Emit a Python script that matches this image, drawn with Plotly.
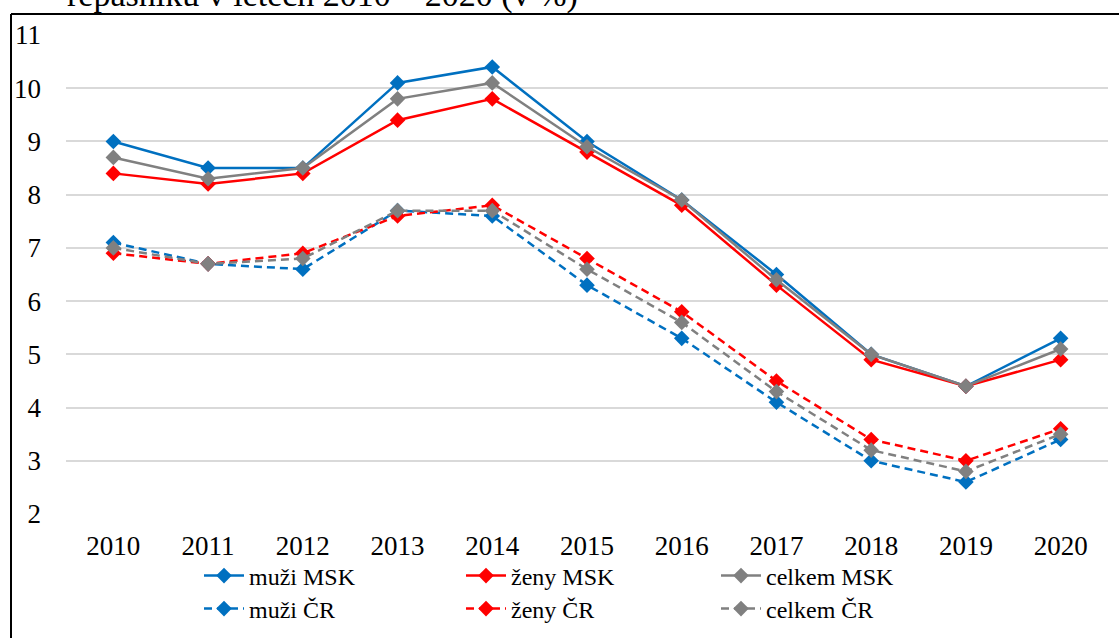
import plotly.graph_objects as go

years = ["2010", "2011", "2012", "2013", "2014", "2015", "2016", "2017", "2018", "2019", "2020"]
muzi_msk = [9.0, 8.5, 8.5, 10.1, 10.4, 9.0, 7.9, 6.5, 5.0, 4.4, 5.3]
zeny_msk = [8.4, 8.2, 8.4, 9.4, 9.8, 8.8, 7.8, 6.3, 4.9, 4.4, 4.9]
celkem_msk = [8.7, 8.3, 8.5, 9.8, 10.1, 8.9, 7.9, 6.4, 5.0, 4.4, 5.1]
muzi_cr = [7.1, 6.7, 6.6, 7.7, 7.6, 6.3, 5.3, 4.1, 3.0, 2.6, 3.4]
zeny_cr = [6.9, 6.7, 6.9, 7.6, 7.8, 6.8, 5.8, 4.5, 3.4, 3.0, 3.6]
celkem_cr = [7.0, 6.7, 6.8, 7.7, 7.7, 6.6, 5.6, 4.3, 3.2, 2.8, 3.5]
y_ticks = [2, 3, 4, 5, 6, 7, 8, 9, 10, 11]
title_text = "repasníků v letech 2010 – 2020 (v %)"

BLUE = "#0070C0"
RED = "#FF0000"
GRAY = "#808080"
FONT = "Times New Roman, Liberation Serif, serif"

# body margin removed by post_script, so page pixels == figure pixels
W, H = 1119, 638
L, R, T, B = 66, W - 1108, 35, H - 514
PW, PH = W - L - R, H - T - B

def px_x(page_x):
    return (page_x - L) / PW

def px_y(page_y):
    return (H - B - page_y) / PH

# legend slot positions in page pixels (line start / row centre), with calibration
leg_cols = [205 - 6, 467 - 6, 722 - 6]
leg_rows = [577 - 1, 610 - 1]

series = [
    ("muži MSK", muzi_msk, BLUE, "solid"),
    ("ženy MSK", zeny_msk, RED, "solid"),
    ("celkem MSK", celkem_msk, GRAY, "solid"),
    ("muži ČR", muzi_cr, BLUE, "8px,5px"),
    ("ženy ČR", zeny_cr, RED, "8px,5px"),
    ("celkem ČR", celkem_cr, GRAY, "8px,5px"),
]

fig = go.Figure()
legend_layouts = {}
for i, (name, vals, col, dash) in enumerate(series):
    leg_id = "legend" if i == 0 else f"legend{i + 1}"
    fig.add_trace(go.Scatter(
        x=years, y=vals, name=name, mode="lines+markers",
        line=dict(color=col, width=2.5, dash=dash),
        marker=dict(symbol="diamond", size=12, color=col),
        legend=leg_id,
    ))
    legend_layouts[leg_id] = dict(
        x=px_x(leg_cols[i % 3]), y=px_y(leg_rows[i // 3]),
        xanchor="left", yanchor="middle", orientation="h",
        font=dict(family=FONT, size=24, color="black"),
        bgcolor="rgba(0,0,0,0)", borderwidth=0, itemwidth=40,
    )

fig.update_layout(
    width=W, height=H,
    margin=dict(l=L, r=R, t=T, b=B, pad=0, autoexpand=False),
    paper_bgcolor="white", plot_bgcolor="white",
    font=dict(family=FONT, size=27, color="black"),
    showlegend=True,
    xaxis=dict(
        type="category", range=[-0.5, 10.5], showgrid=False, showline=False,
        ticks="", zeroline=False, ticklabelstandoff=13,
        tickfont=dict(family=FONT, size=27, color="black"),
    ),
    yaxis=dict(
        range=[2, 11], tickvals=y_ticks, showgrid=True, gridcolor="#D9D9D9",
        gridwidth=1.5, zeroline=False, showline=False, ticks="",
        ticklabelstandoff=24,
        tickfont=dict(family=FONT, size=27, color="black"),
    ),
    shapes=[
        dict(type="line", xref="paper", yref="paper", x0=px_x(11), x1=px_x(1130),
             y0=px_y(14), y1=px_y(14), line=dict(color="black", width=2)),
        dict(type="line", xref="paper", yref="paper", x0=px_x(11), x1=px_x(11),
             y0=px_y(14), y1=px_y(650), line=dict(color="black", width=2)),
    ],
    annotations=[
        dict(text=title_text, xref="paper", yref="paper", x=px_x(322), y=px_y(-5),
             xanchor="center", yanchor="middle", showarrow=False,
             font=dict(family=FONT, size=34, color="black")),
    ],
    **legend_layouts,
)

fig.write_html("out.html", config={"displayModeBar": False},
               post_script="document.body.style.margin='0';document.body.style.overflow='hidden';")
